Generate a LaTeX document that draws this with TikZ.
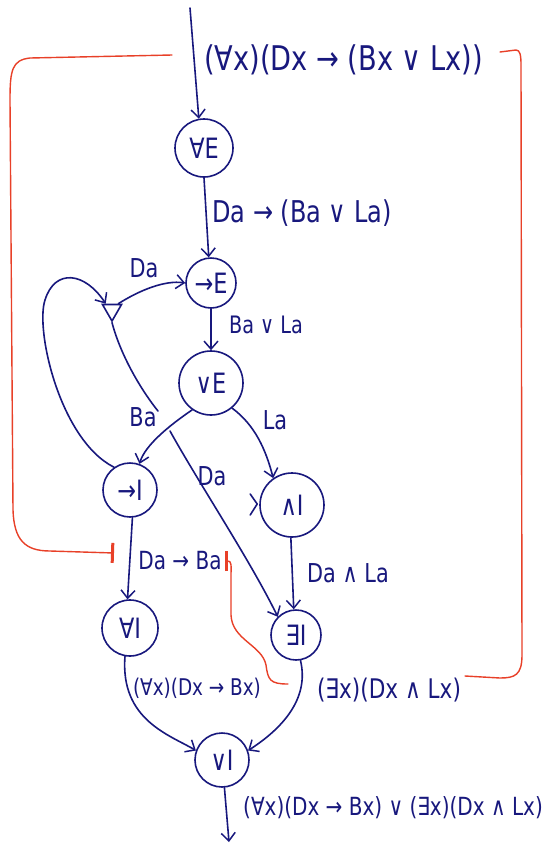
\documentclass[tikz,border=0pt]{standalone}
\usepackage{fontspec}
\setmainfont{DejaVu Sans}[FakeStretch=0.8]
\usetikzlibrary{arrows.meta,shapes.geometric,calc}
\definecolor{ink}{RGB}{24,24,125}
\definecolor{redink}{RGB}{232,64,40}
\begin{document}
\begin{tikzpicture}[x=1pt,y=-1pt,
  inkline/.style={draw=ink,line width=1.6pt,line cap=round,line join=round},
  arr/.style={inkline,-{Straight Barb[length=8pt,width=14pt,line width=1.5pt]}},
  rulenode/.style={circle,draw=ink,line width=1.6pt,text=ink,font=\fontsize{28}{30}\selectfont,inner sep=0pt},
  lbl/.style={text=ink,font=\fontsize{25}{28}\selectfont,inner sep=1pt},
  redl/.style={draw=redink,line width=1.4pt,line cap=round,line join=round},
  redbar/.style={redl,-{Bar[width=20pt,line width=3pt]}}
]
\useasboundingbox[fill=white] (0,0) rectangle (543,844);

% rule nodes
\node[rulenode,minimum size=58pt] (ae) at (204,148) {∀E};
\node[rulenode,minimum size=50pt] (ie) at (211,283) {→E};
\node[rulenode,minimum size=64pt] (oe) at (211,383) {∨E};
\node[rulenode,minimum size=54pt] (ii) at (130,490) {→I};
\node[rulenode,minimum size=64pt] (ci) at (292,505) {∧I};
\node[rulenode,minimum size=56pt] (ai) at (130,628) {∀I};
\node[rulenode,minimum size=50pt] (ei) at (296,635) {∃I};
\node[rulenode,minimum size=54pt] (oi) at (222,760) {∨I};
\node[draw=ink,line width=1.6pt,regular polygon,regular polygon sides=3,shape border rotate=180,minimum size=22pt,inner sep=0pt] (tri) at (112,310) {};

% free ends
\coordinate (top) at (190,8);
\coordinate (bot) at (229,842);

% labels
\node[lbl,font=\fontsize{34}{38}\selectfont,anchor=west] (f0) at (203,60) {(∀x)(Dx → (Bx ∨ Lx))};
\node[lbl,font=\fontsize{30}{34}\selectfont,anchor=west] (f1) at (211,213) {Da → (Ba ∨ La)};
\node[lbl,font=\fontsize{26}{30}\selectfont] (f2) at (144,268) {Da};
\node[lbl,font=\fontsize{24}{28}\selectfont] (f3) at (266,325) {Ba ∨ La};
\node[lbl,font=\fontsize{26}{30}\selectfont] (f4) at (143,417) {Ba};
\node[lbl,font=\fontsize{26}{30}\selectfont] (f5) at (275,420) {La};
\node[lbl,font=\fontsize{26}{30}\selectfont] (f6) at (212,476) {Da};
\node[lbl] (f7) at (180,561) {Da → Ba};
\node[lbl,font=\fontsize{26}{30}\selectfont] (f8) at (348,573) {Da ∧ La};
\node[lbl,font=\fontsize{23}{26}\selectfont] (f9) at (197,688) {(∀x)(Dx → Bx)};
\node[lbl,font=\fontsize{27}{30}\selectfont] (f10) at (389,690) {(∃x)(Dx ∧ Lx)};
\node[lbl] (f11) at (393,808) {(∀x)(Dx → Bx) ∨ (∃x)(Dx ∧ Lx)};

% connectors
\draw[arr] (top) -- (ae.100);
\draw[arr] (ae.-90) -- (ie.95);
\draw[arr] (ie.-90) -- (oe.90);
\draw[arr] (tri.north east) .. controls (140,290) and (165,280) .. (ie.west);
\draw[arr] (ii.125) .. controls (60,440) and (35,330) .. (45,300) .. controls (55,268) and (85,272) .. (tri.north west);
\draw[inkline] (tri.south) .. controls (122,360) and (145,395) .. (158,411);
\draw[arr] (170,431) .. controls (200,485) and (250,560) .. (ei.north west);
\draw[arr] (oe.235) .. controls (170,425) and (145,445) .. (ii.70);
\draw[arr] (oe.-50) .. controls (255,425) and (266,450) .. (ci.125);
\draw[inkline] ($(ci.west)+(-9,-11)$) -- ($(ci.west)+(-2,-1)$) -- ($(ci.west)+(-9,10)$);
\draw[arr] (ii.-85) -- (ai.95);
\draw[arr] (ci.-92) -- (ei.95);
\draw[arr] (ai.-100) .. controls (120,720) and (170,735) .. (oi.160);
\draw[arr] (ei.-80) .. controls (310,700) and (280,730) .. (oi.20);
\draw[arr] (oi.-85) -- (bot);

% red annotations
\draw[redbar] (172,55) -- (30,58) .. controls (12,60) and (10,70) .. (10,100) -- (13,510) .. controls (14,540) and (25,551) .. (50,551) -- (114,553);
\draw[redl] (500,52) -- (516,50) .. controls (520,50) and (521,55) .. (521,65) -- (522,655) .. controls (522,675) and (515,678) .. (500,678) -- (465,676);
\draw[redbar] (288,684) .. controls (270,684) and (268,680) .. (266,665) .. controls (262,645) and (232,640) .. (231,615) -- (231,578) .. controls (231,564) and (232,561) .. (225,561);
\end{tikzpicture}
\end{document}
